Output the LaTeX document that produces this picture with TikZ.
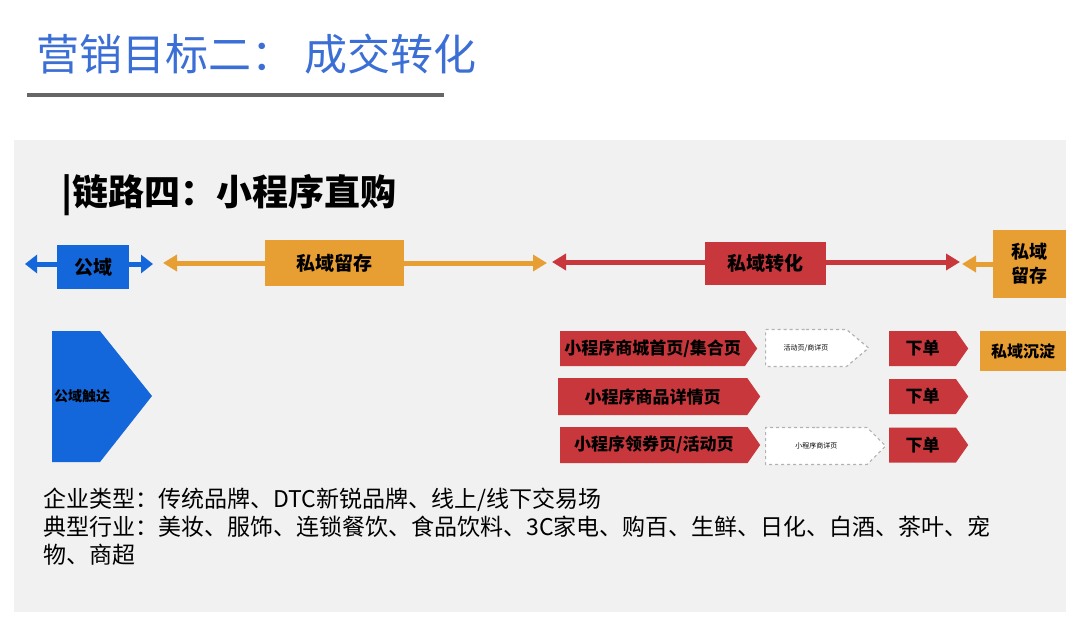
\documentclass[tikz,border=0pt]{standalone}
\usepackage{fontspec}
\setmainfont{Noto Sans CJK SC}
\usetikzlibrary{arrows.meta, shapes.symbols, positioning}
\definecolor{titleblue}{HTML}{3B6FD6}
\definecolor{domblue}{HTML}{1467DB}
\definecolor{keeporange}{HTML}{E79E32}
\definecolor{convred}{HTML}{C8373B}
\definecolor{panelgray}{HTML}{F1F1F1}

\begin{document}
\begin{tikzpicture}[x=1pt, y=-1pt,
    box/.style={inner sep=0, font=\bfseries\fontsize{19}{21}\selectfont},
    bar/.style={line width=5pt, -{Triangle[length=14pt,width=16pt]}},
    stepred/.style={signal, signal to=east, signal pointer angle=110, fill=convred,
        anchor=west, inner sep=0, minimum height=35pt, font=\bfseries\fontsize{17}{19}\selectfont},
    dashbox/.style={signal, signal to=east, signal pointer angle=80, draw=gray!60,
        dashed, line width=1.2pt, fill=white, anchor=west, inner sep=0, minimum height=37pt,
        font=\fontsize{7}{8}\selectfont}]
    \useasboundingbox (0,0) rectangle (1080,621);
    \fill[white] (0,0) rectangle (1080,621);
    % title
    \node[anchor=west, text=titleblue, font=\fontsize{43}{46}\selectfont] (title) at (33,54) {营销目标二：\ 成交转化};
    \draw[line width=4pt, gray!80!black] (27,95) -- (444,95);
    \fill[panelgray] (14,140) rectangle (1066,612);
    \node[anchor=west, font=\bfseries\fontsize{36}{40}\selectfont] (head) at (58,195) {|链路四：小程序直购};

    % top row
    \node[box, fill=domblue, minimum width=72pt, minimum height=44pt] (pub) at (93,267) {公域};
    \coordinate (pubL) at (25,264);
    \coordinate (pubR) at (153,264);
    \draw[bar, domblue, -{Triangle[length=12pt,width=18pt]}] (pub.west |- pubL) -- (pubL);
    \draw[bar, domblue, -{Triangle[length=12pt,width=18pt]}] (pub.east |- pubR) -- (pubR);

    \node[box, fill=keeporange, minimum width=139pt, minimum height=46pt] (keep) at (334.5,263) {私域留存};
    \coordinate (keepL) at (163,263);
    \coordinate (keepR) at (547,263);
    \draw[bar, keeporange] (keep.west) -- (keepL);
    \draw[bar, keeporange] (keep.east) -- (keepR);

    \node[box, fill=convred, minimum width=121pt, minimum height=43pt] (conv) at (765.5,263.5) {私域转化};
    \coordinate (convL) at (552,262);
    \coordinate (convR) at (960,262);
    \draw[bar, convred] (conv.west |- convL) -- (convL);
    \draw[bar, convred] (conv.east |- convR) -- (convR);

    \node[box, fill=keeporange, minimum width=73pt, minimum height=68pt, align=center,
        font=\bfseries\fontsize{18}{24}\selectfont] (keep2) at (1029.5,264) {私域\\留存};
    \coordinate (keep2L) at (962,264);
    \draw[bar, keeporange] (keep2.west) -- (keep2L);

    % public touch
    \fill[domblue] (52,331) -- (100,331) -- (152,396) -- (100,462) -- (52,462) -- cycle;
    \node[inner sep=0, font=\bfseries\fontsize{14}{16}\selectfont] (touch) at (82,396) {公域触达};

    % conversion rows
    \node[stepred, minimum width=197pt] (mall) at (560,348.5) {小程序商城首页/集合页};
    \node[stepred, minimum width=202pt, minimum height=37pt] (item) at (558,396.5) {小程序商品详情页};
    \node[stepred, minimum width=200pt, minimum height=36pt] (coupon) at (560,445) {小程序领券页/活动页};
    \node[dashbox, minimum width=103pt] (act) at (765,348) {活动页/商详页};
    \node[dashbox, minimum width=120pt, signal pointer angle=90] (detail) at (765,446) {小程序商详页};
    \node[stepred, minimum width=79pt] (order1) at (889,348.5) {下单};
    \node[stepred, minimum width=79pt] (order2) at (889,396.5) {下单};
    \node[stepred, minimum width=79pt] (order3) at (889,445) {下单};
    \node[box, fill=keeporange, minimum width=86pt, minimum height=40pt,
        font=\bfseries\fontsize{16}{18}\selectfont] (settle) at (1023,351) {私域沉淀};

    % notes
    \node[anchor=north west, align=left, text width=1010pt,
        font=\fontsize{23}{28}\selectfont] (note) at (40,484)
        {企业类型：传统品牌、DTC新锐品牌、线上/线下交易场\\
         典型行业：美妆、服饰、连锁餐饮、食品饮料、3C家电、购百、生鲜、日化、白酒、茶叶、宠\\
         物、商超};
\end{tikzpicture}
\end{document}
